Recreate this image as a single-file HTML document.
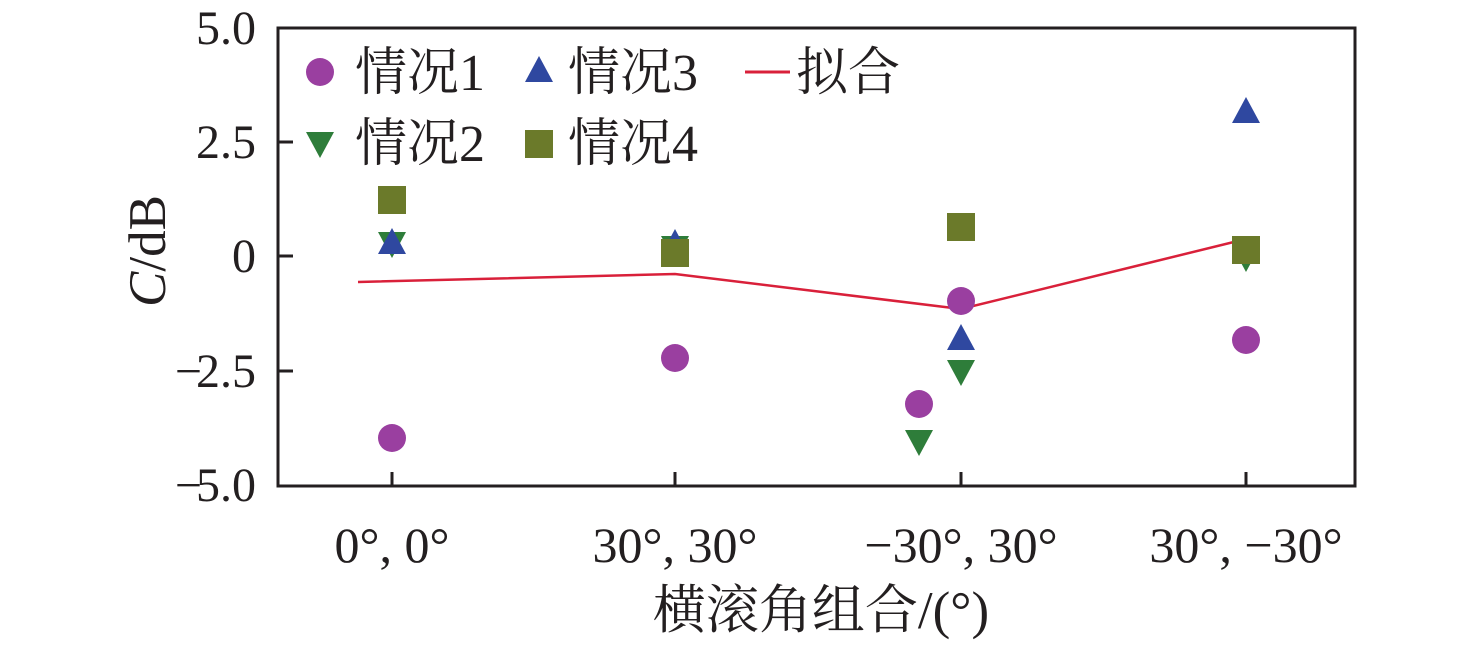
<!DOCTYPE html>
<html><head><meta charset="utf-8"><style>
body{margin:0;background:#fff}
svg text{font-family:"Liberation Serif","Noto Serif CJK SC",serif;fill:#231f20}
</style></head><body>
<svg width="1476" height="643" xmlns="http://www.w3.org/2000/svg">
<rect x="278" y="28" width="1077" height="458" fill="none" stroke="#231f20" stroke-width="3"/>
<g stroke="#231f20" stroke-width="3">
<line x1="278" y1="142" x2="293" y2="142"/><line x1="278" y1="256" x2="293" y2="256"/>
<line x1="278" y1="371" x2="293" y2="371"/>
<line x1="392" y1="486" x2="392" y2="472"/><line x1="675" y1="486" x2="675" y2="472"/>
<line x1="961" y1="486" x2="961" y2="472"/><line x1="1246" y1="486" x2="1246" y2="472"/>
</g>
<g font-size="48" text-anchor="end">
<text x="256" y="44">5.0</text><text x="256" y="158">2.5</text><text x="256" y="272">0</text>
<text x="256" y="387"><tspan letter-spacing="-6">−</tspan>2.5</text><text x="256" y="501"><tspan letter-spacing="-6">−</tspan>5.0</text>
</g>
<g font-size="50" text-anchor="middle">
<text x="392" y="562">0°, 0°</text><text x="675" y="562">30°, 30°</text>
<text x="961" y="562">−30°, 30°</text><text x="1246" y="562">30°, −30°</text>
<text x="821" y="628" font-size="53">横滚角组合/(°)</text>
</g>
<text transform="translate(165,251) rotate(-90)" font-size="53" text-anchor="middle"><tspan font-style="italic">C</tspan>/dB</text>
<polyline points="358,282 675,274 961,309 1246,239" fill="none" stroke="#d9203a" stroke-width="2.5"/>
<defs>
<circle id="c" r="14" fill="#9a3fa0"/>
<rect id="s" x="-14" y="-14" width="28" height="28" fill="#6b7a2a"/>
<path id="u" d="M0,-14 L14,12 L-14,12Z" fill="#2f48a0"/>
<path id="d" d="M0,14 L14,-12 L-14,-12Z" fill="#2e7d3a"/>
</defs>
<use href="#d" x="392" y="244"/><use href="#u" x="392" y="242"/><use href="#s" x="392" y="200"/><use href="#c" x="392" y="438"/>
<use href="#d" x="675" y="248"/><use href="#u" x="675" y="243"/><use href="#s" x="675" y="253"/><use href="#c" x="675" y="358"/>
<use href="#c" x="919" y="404"/><use href="#d" x="919" y="442"/><use href="#s" x="961" y="227"/><use href="#c" x="961" y="301"/><use href="#u" x="961" y="338"/><use href="#d" x="961" y="372"/>
<use href="#u" x="1246" y="111"/><use href="#d" x="1246" y="258"/><use href="#s" x="1246" y="250"/><use href="#c" x="1246" y="340"/>
<g font-size="52">
<use href="#c" x="320" y="72"/><text x="355" y="90">情况1</text>
<use href="#u" x="539" y="70"/><text x="568" y="90">情况3</text>
<line x1="745" y1="72" x2="790" y2="72" stroke="#d9203a" stroke-width="3"/><text x="796" y="90">拟合</text>
<use href="#d" x="320" y="144"/><text x="355" y="161">情况2</text>
<use href="#s" x="539" y="144"/><text x="568" y="161">情况4</text>
</g>
</svg>
</body></html>
